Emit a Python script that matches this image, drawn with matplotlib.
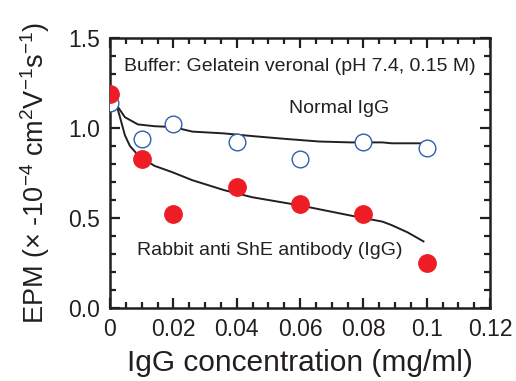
import matplotlib
matplotlib.use("Agg")
import matplotlib.pyplot as plt
from matplotlib.ticker import MultipleLocator, FixedLocator

plt.rcParams['font.family'] = ['Liberation Sans', 'DejaVu Sans']
plt.rcParams['mathtext.fontset'] = 'custom'
plt.rcParams['mathtext.rm'] = 'Liberation Sans'

# Measured electrophoretic mobility
conc = [0.0, 0.01, 0.02, 0.04, 0.06, 0.08, 0.10]
epm_normal = [1.14, 0.94, 1.02, 0.92, 0.83, 0.92, 0.89]
epm_anti = [1.19, 0.83, 0.52, 0.67, 0.58, 0.52, 0.25]

# Fitted curves
fit_normal_x = [0.0, 0.002, 0.0047, 0.0088, 0.014, 0.020, 0.026, 0.036, 0.045,
                0.055, 0.066, 0.076, 0.086, 0.089, 0.0985]
fit_normal_y = [1.17, 1.13, 1.06, 1.02, 1.01, 1.005, 0.98, 0.97, 0.955,
                0.94, 0.925, 0.92, 0.92, 0.915, 0.915]
fit_anti_x = [0.0, 0.002, 0.003, 0.0047, 0.0063, 0.0088, 0.014, 0.0196, 0.026,
              0.036, 0.045, 0.060, 0.077, 0.086, 0.089, 0.094, 0.099]
fit_anti_y = [1.17, 1.13, 1.07, 0.96, 0.90, 0.85, 0.79, 0.755, 0.71,
              0.655, 0.615, 0.57, 0.51, 0.48, 0.46, 0.42, 0.37]

x_ticks = [0, 0.02, 0.04, 0.06, 0.08, 0.10, 0.12]
x_tick_labels = ['0', '0.02', '0.04', '0.06', '0.08', '0.1', '0.12']
y_ticks = [0.0, 0.5, 1.0, 1.5]
y_tick_labels = ['0.0', '0.5', '1.0', '1.5']

fig = plt.figure(figsize=(5.16, 3.81), dpi=100)
ax = fig.add_axes([110/516, 1 - 308/381, 380/516, 270/381])

text_color = '#231f20'
ax.plot(fit_normal_x, fit_normal_y, color=text_color, lw=1.4, zorder=2)
ax.plot(fit_anti_x, fit_anti_y, color=text_color, lw=1.4, zorder=2)
ax.plot(conc, epm_normal, 'o', ms=12, mfc='white', mec='#2f5fae', mew=1.0,
        ls='none', zorder=3)
ax.plot(conc, epm_anti, 'o', ms=12.5, mfc='#ee1c25', mec='#ee1c25',
        ls='none', zorder=4)

ax.set_xlim(0, 0.12)
ax.set_ylim(0, 1.5)
ax.xaxis.set_major_locator(FixedLocator(x_ticks))
ax.set_xticklabels(x_tick_labels)
ax.xaxis.set_minor_locator(MultipleLocator(0.005))
ax.yaxis.set_major_locator(FixedLocator(y_ticks))
ax.set_yticklabels(y_tick_labels)
ax.yaxis.set_minor_locator(MultipleLocator(0.1))
ax.tick_params(which='both', direction='in', top=True, right=True,
               colors=text_color, labelsize=16.5, width=1.6)
ax.tick_params(which='major', length=7, pad=7)
ax.tick_params(which='minor', length=4)
for sp in ax.spines.values():
    sp.set_linewidth(1.8)
    sp.set_color(text_color)

ax.text(0.0043, 1.343, 'Buffer: Gelatein veronal (pH 7.4, 0.15 M)',
        fontsize=14, color=text_color, va='center', ha='left')
ax.text(0.0725, 1.111, 'Normal IgG', fontsize=14, color=text_color,
        va='center', ha='center')
ax.text(0.0085, 0.322, 'Rabbit anti ShE antibody (IgG)', fontsize=14,
        color=text_color, va='center', ha='left')

ax.set_xlabel('IgG concentration (mg/ml)', fontsize=21.5, color=text_color,
              labelpad=6)
ax.set_ylabel(r'EPM (× -10$^{-4}$ cm$^{2}$V$^{-1}$s$^{-1}$)',
              fontsize=19.5, color=text_color, labelpad=12)

fig.savefig('out.png', dpi=100)
